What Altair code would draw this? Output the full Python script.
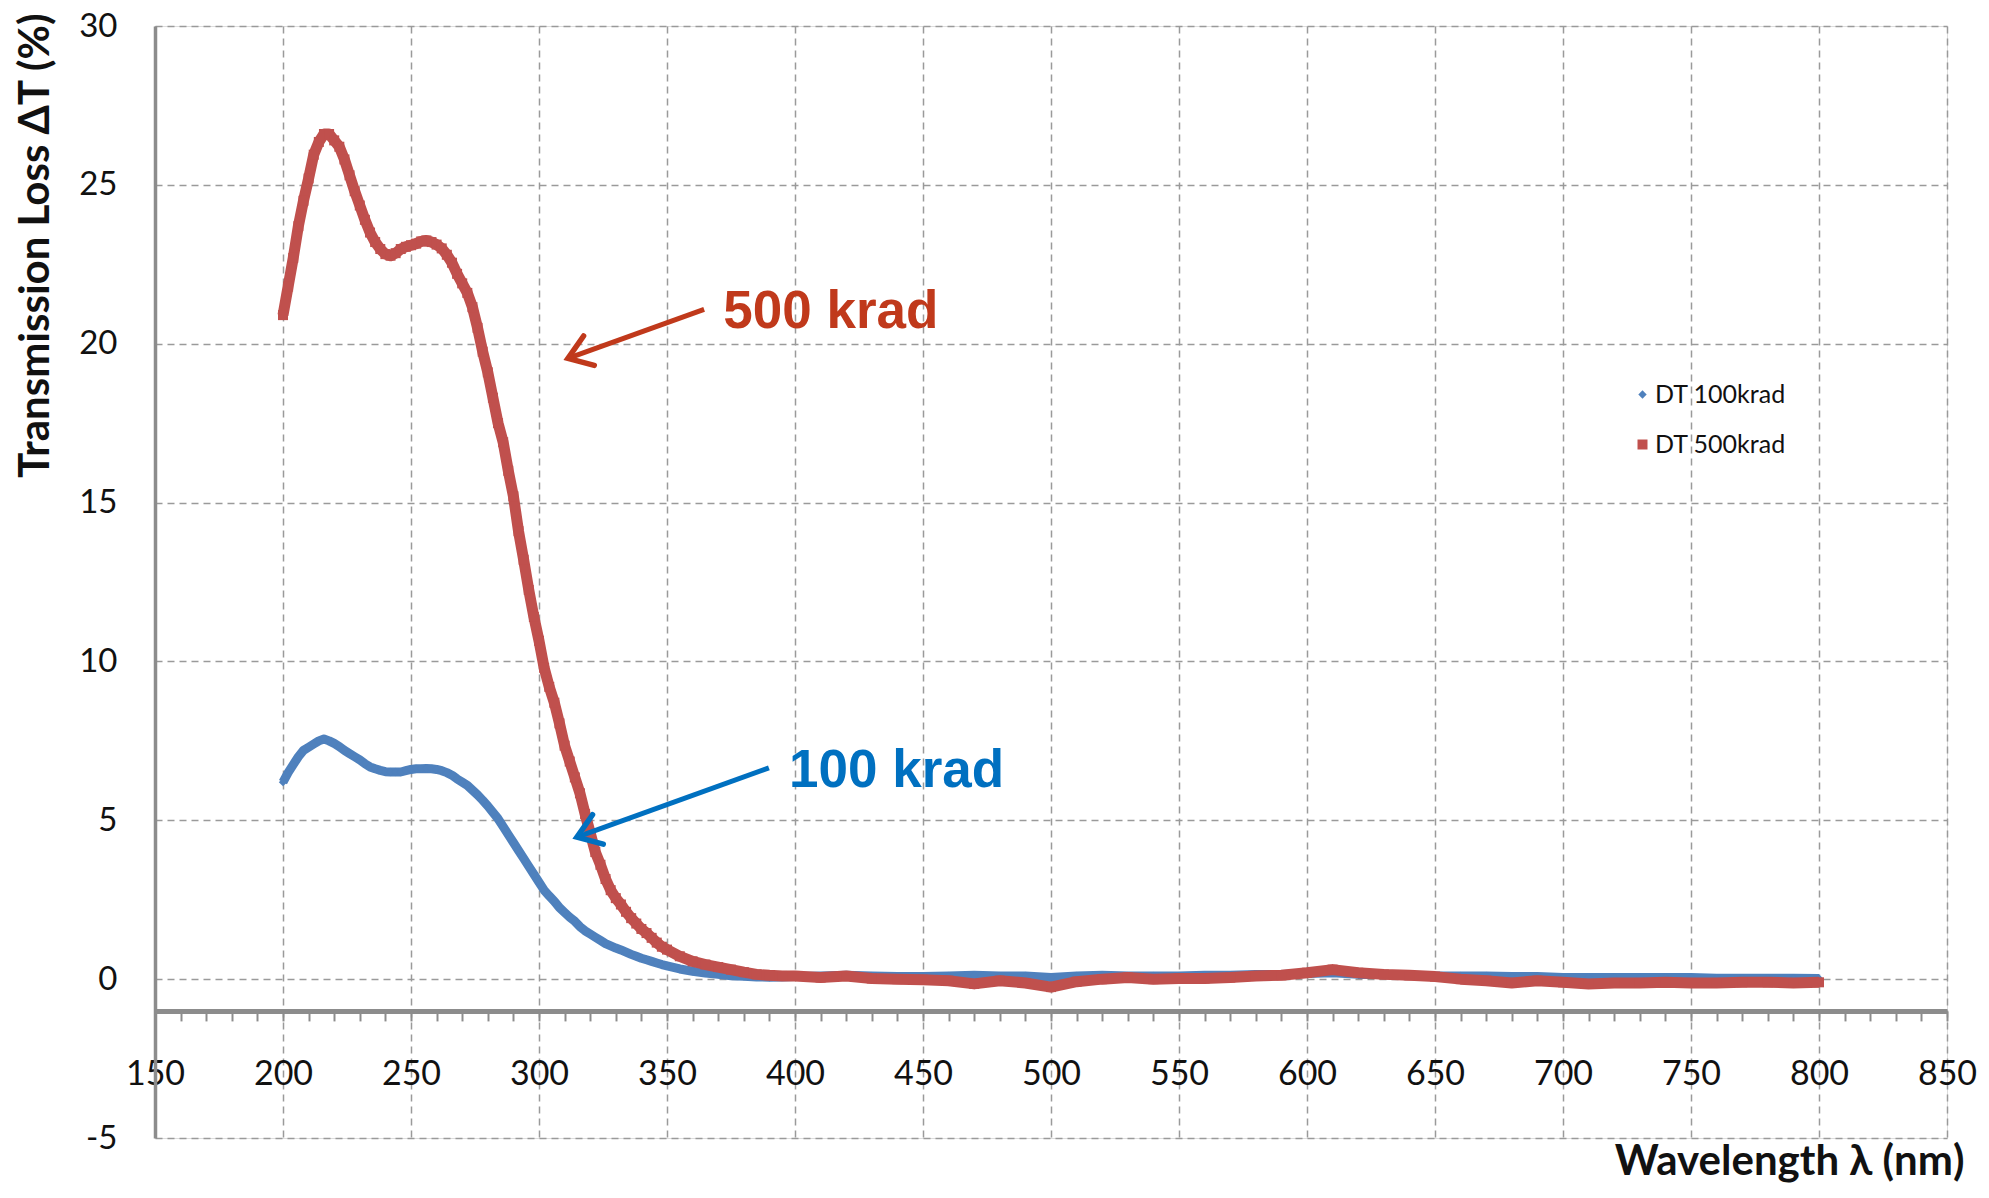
import altair as alt
import pandas as pd

# ---------------- data ----------------
wavelength = (list(range(200, 351, 2)) + list(range(355, 401, 5)) + list(range(410, 801, 10)))

dt_500 = [
    20.9, 21.8, 22.7, 23.7, 24.5, 25.2, 25.95, 26.35, 26.6, 26.6,
    26.4, 26.2, 25.8, 25.3, 24.8, 24.35, 23.9, 23.5, 23.2, 22.98,
    22.82, 22.77, 22.85, 22.98, 23.05, 23.1, 23.15, 23.22, 23.25, 23.2,
    23.12, 23.0, 22.8, 22.55, 22.2, 21.9, 21.6, 21.15, 20.5, 19.75,
    19.1, 18.3, 17.5, 16.9, 16.0, 15.2, 14.1, 13.2, 12.25, 11.4,
    10.65, 9.8, 9.2, 8.7, 8.05, 7.35, 6.85, 6.35, 5.85, 5.2,
    4.6, 4.0, 3.6, 3.15, 2.8, 2.55, 2.35, 2.12, 1.92, 1.75,
    1.58, 1.45, 1.3, 1.15, 1.02, 0.93,
    0.72, 0.56, 0.46, 0.38, 0.3, 0.22, 0.15, 0.12, 0.1, 0.1,
    0.05, 0.1, 0.02, 0.0, -0.02, -0.05, -0.15, -0.05, -0.12, -0.25,
    -0.08, 0.0, 0.05, 0.0, 0.02, 0.02, 0.05, 0.1, 0.12, 0.2,
    0.3, 0.2, 0.15, 0.12, 0.08, 0.0, -0.05, -0.12, -0.05, -0.1,
    -0.15, -0.12, -0.12, -0.1, -0.12, -0.12, -0.1, -0.1, -0.12, -0.1,
]

dt_100 = [
    6.2, 6.5, 6.75, 7.0, 7.2, 7.3, 7.4, 7.5, 7.56, 7.5,
    7.42, 7.32, 7.2, 7.1, 7.0, 6.9, 6.78, 6.68, 6.62, 6.57,
    6.53, 6.52, 6.52, 6.52, 6.56, 6.6, 6.62, 6.62, 6.63, 6.62,
    6.6, 6.56, 6.5, 6.42, 6.3, 6.2, 6.1, 5.95, 5.8, 5.63,
    5.45, 5.25, 5.05, 4.8, 4.55, 4.3, 4.05, 3.8, 3.55, 3.3,
    3.05, 2.8, 2.62, 2.45, 2.25, 2.1, 1.95, 1.82, 1.65, 1.52,
    1.42, 1.32, 1.22, 1.12, 1.05, 0.98, 0.92, 0.85, 0.78, 0.72,
    0.66, 0.61, 0.56, 0.51, 0.46, 0.42,
    0.32, 0.25, 0.19, 0.15, 0.11, 0.09, 0.07, 0.06, 0.07, 0.08,
    0.1, 0.12, 0.1, 0.08, 0.08, 0.1, 0.12, 0.1, 0.1, 0.05,
    0.1, 0.12, 0.1, 0.1, 0.1, 0.12, 0.12, 0.15, 0.15, 0.18,
    0.2, 0.15, 0.15, 0.12, 0.1, 0.1, 0.1, 0.08, 0.08, 0.05,
    0.05, 0.05, 0.05, 0.05, 0.05, 0.03, 0.03, 0.03, 0.03, 0.02,
]

series_names = ["DT 100krad", "DT 500krad"]
series_colors = ["#4F81BD", "#C0504D"]

x_ticks = list(range(150, 851, 10))
y_ticks = [-5, 0, 5, 10, 15, 20, 25, 30]

# annotations
ann_text = ["500 krad", "100 krad"]
ann_text_x = [372.0, 397.7]
ann_text_y = [21.0, 6.54]
ann_arrow_x0 = [364.5, 389.8]
ann_arrow_y0 = [21.08, 6.65]
ann_arrow_x1 = [311.3, 314.8]
ann_arrow_y1 = [19.54, 4.47]
ann_colors = ["#C0391B", "#0070C0"]

# ---------------- layout ----------------
W, H = 1792, 1112
FONT = "Lato"

df = pd.DataFrame({
    "wl": wavelength * 2,
    "val": dt_100 + dt_500,
    "series": [series_names[0]] * len(wavelength) + [series_names[1]] * len(wavelength),
})

ann = pd.DataFrame({
    "label": ann_text, "tx": ann_text_x, "ty": ann_text_y,
    "x0": ann_arrow_x0, "y0": ann_arrow_y0, "x1": ann_arrow_x1, "y1": ann_arrow_y1,
})

xscale = alt.Scale(domain=[150, 850], nice=False, zero=False)
yscale = alt.Scale(domain=[-5, 30], nice=False, zero=False)

xaxis = alt.Axis(
    values=x_ticks,
    labelExpr="datum.value % 50 === 0 ? datum.label : ''",
    offset=-4 * H / 35,
    grid=True, gridDash=[7, 5], gridColor="#9a9a9a", gridWidth=1.5,
    gridOpacity={"condition": {"test": "datum.value % 50 === 0", "value": 1}, "value": 0},
    domainColor="#8c8c8c", domainWidth=5,
    tickColor="#8c8c8c", tickWidth=2, tickSize=10,
    labelPadding=37, labelFont=FONT, labelFontSize=34, labelColor="#111111",
    labelOverlap=False, labelFlush=False, labelBaseline="top",
    title="Wavelength λ (nm)", titleFont=FONT, titleFontSize=42, titleFontWeight="bold",
    titleColor="#111111", titleX=W + 17, titleY=164, titleAlign="right", titleBaseline="alphabetic",
)
yaxis = alt.Axis(
    values=y_ticks,
    labelExpr="replace(datum.label, '\u2212', '-')",
    grid=True, gridDash=[7, 5], gridColor="#9a9a9a", gridWidth=1.5,
    ticks=False, labelPadding=38, labelFont=FONT, labelFontSize=33, labelColor="#111111",
    domainColor="#8c8c8c", domainWidth=3.5,
    title="Transmission Loss ΔT (%)", titleFont=FONT, titleFontSize=42, titleFontWeight="bold",
    titleColor="#111111", titleX=-120, titleY=-13, titleAlign="right", titleBaseline="middle",
    titleAngle=270,
)


def X(f):
    return alt.X(f, type="quantitative", scale=xscale, axis=xaxis)


def Y(f):
    return alt.Y(f, type="quantitative", scale=yscale, axis=yaxis)


legend = alt.Legend(
    orient="none", legendX=1475, legendY=356, title=None,
    labelFont=FONT, labelFontSize=25, labelColor="#111111", labelOffset=0,
    rowPadding=24, padding=0, symbolStrokeWidth=0,
)
color = alt.Color("series:N", scale=alt.Scale(domain=series_names, range=series_colors), legend=legend)
shape = alt.Shape("series:N", scale=alt.Scale(domain=series_names, range=["diamond", "square"]), legend=legend)
size = alt.Size("series:N", scale=alt.Scale(domain=series_names, range=[70, 100]), legend=legend)

base = alt.Chart(df)
layers = []
for name, col, sw in zip(series_names, series_colors, [9, 11]):
    sub = base.transform_filter(alt.datum.series == name)
    layers.append(sub.mark_line(color=col, strokeWidth=sw, strokeJoin="round").encode(
        x=X("wl"), y=Y("val"), order="wl:Q"))
    layers.append(sub.mark_point(filled=True, opacity=1).encode(
        x=X("wl"), y=Y("val"), color=color, shape=shape, size=size))

abase = alt.Chart(ann)
for lab, col in zip(ann_text, ann_colors):
    sub = abase.transform_filter(alt.datum.label == lab)
    layers.append(sub.mark_rule(color=col, strokeWidth=5).encode(
        x=X("x0"), y=Y("y0"), x2="x1:Q", y2="y1:Q"))
    layers.append(sub.mark_point(shape="M -1 -0.7 L 0 0 L -1 0.7", angle=160, size=2000,
                                 filled=False, color=col, strokeWidth=5.5, opacity=1,
                                 strokeCap="round", strokeJoin="miter").encode(
        x=X("x1"), y=Y("y1")))
    layers.append(sub.mark_text(color=col, align="left", baseline="middle", font="Liberation Sans",
                                fontSize=53, fontWeight="bold").encode(
        x=X("tx"), y=Y("ty"), text="label:N"))

chart = alt.layer(*layers).properties(
    width=W, height=H,
    autosize=alt.AutoSizeParams(type="none"),
    padding={"left": 147, "top": 18, "right": 34, "bottom": 47},
).configure_view(stroke=None).configure(background="white")

chart.save("out.html", embed_options={"renderer": "svg", "actions": False})
